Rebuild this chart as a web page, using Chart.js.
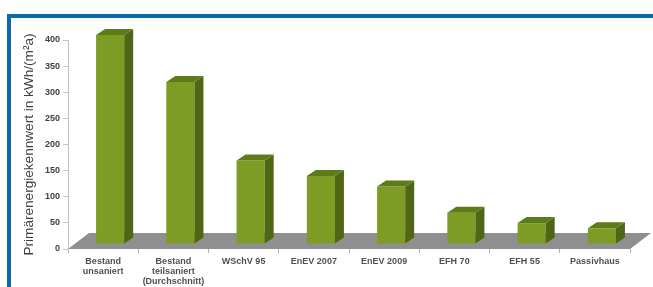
<!DOCTYPE html>
<html>
<head>
<meta charset="utf-8">
<script src="https://cdn.jsdelivr.net/npm/chart.js@4"></script>
<style>
  html, body { margin: 0; padding: 0; background: #fff; }
  #wrap { position: relative; width: 653px; height: 287px; overflow: hidden; }
  #frame { position: absolute; left: 7px; top: 14px; width: 660px; height: 300px;
           border-top: 4px solid #0b6aae; border-left: 4px solid #0b6aae; box-sizing: border-box; }
  #chart { position: absolute; left: 0; top: 0; }
</style>
</head>
<body>
<div id="wrap">
  <div id="frame"></div>
  <canvas id="chart" width="653" height="287"></canvas>
</div>
<script>
const categories = [
  ['Bestand', 'unsaniert'],
  ['Bestand', 'teilsaniert', '(Durchschnitt)'],
  'WSchV 95',
  'EnEV 2007',
  'EnEV 2009',
  'EFH 70',
  'EFH 55',
  'Passivhaus'
];
const values = [400, 310, 160, 130, 110, 60, 40, 30];
const yTicks = [0, 50, 100, 150, 200, 250, 300, 350, 400];

// 3d look: front face shifted into the floor, side + top faces added
const depth = { dx: 9, dy: -6 };
const shift = { dx: 7, dy: -5 };
const floorDepth = { dx: 21, dy: -16 };

const bars3d = {
  id: 'bars3d',
  beforeDatasetsDraw(chart) {
    const ctx = chart.ctx;
    const a = chart.chartArea;
    const y0 = chart.scales.y.getPixelForValue(0);
    // gray floor
    ctx.save();
    ctx.fillStyle = '#8f8f8f';
    ctx.beginPath();
    ctx.moveTo(a.left, y0);
    ctx.lineTo(a.right, y0);
    ctx.lineTo(a.right + floorDepth.dx, y0 + floorDepth.dy);
    ctx.lineTo(a.left + floorDepth.dx, y0 + floorDepth.dy);
    ctx.closePath();
    ctx.fill();
    ctx.restore();
    ctx.save();
    ctx.translate(shift.dx, shift.dy);
  },
  afterDatasetsDraw(chart) {
    const ctx = chart.ctx;
    chart.getDatasetMeta(0).data.forEach(bar => {
      const p = bar.getProps(['x', 'y', 'base', 'width']);
      const l = p.x - p.width / 2, r = p.x + p.width / 2;
      // side face
      ctx.fillStyle = '#4f6714';
      ctx.beginPath();
      ctx.moveTo(r, p.y);
      ctx.lineTo(r + depth.dx, p.y + depth.dy);
      ctx.lineTo(r + depth.dx, p.base + depth.dy);
      ctx.lineTo(r, p.base);
      ctx.closePath();
      ctx.fill();
      // top face
      ctx.fillStyle = '#5d7b18';
      ctx.beginPath();
      ctx.moveTo(l, p.y);
      ctx.lineTo(r, p.y);
      ctx.lineTo(r + depth.dx, p.y + depth.dy);
      ctx.lineTo(l + depth.dx, p.y + depth.dy);
      ctx.closePath();
      ctx.fill();
    });
    ctx.restore();
  }
};

new Chart(document.getElementById('chart'), {
  type: 'bar',
  data: {
    labels: categories,
    datasets: [{
      data: values,
      backgroundColor: '#7e9c24',
      barPercentage: 0.4,
      categoryPercentage: 1
    }]
  },
  options: {
    responsive: false,
    animation: false,
    events: [],
    layout: { padding: { left: 21, right: 23, top: 40, bottom: 0 } },
    plugins: { legend: { display: false }, tooltip: { enabled: false } },
    scales: {
      y: {
        min: 0,
        max: 400,
        afterFit(axis) { axis.width = 47; },
        afterBuildTicks(axis) { axis.ticks = yTicks.map(v => ({ value: v })); },
        border: { display: true, color: '#c4c4c4', width: 1 },
        grid: { drawOnChartArea: false, tickLength: 5, color: '#c4c4c4' },
        ticks: {
          padding: 3,
          color: '#404040',
          font: { family: 'Liberation Sans', size: 9, weight: 'bold' }
        },
        title: {
          display: true,
          text: 'Primärenergiekennwert in kWh/(m²a)',
          color: '#404040',
          padding: 0,
          font: { family: 'Liberation Sans', size: 13.6 }
        }
      },
      x: {
        afterFit(axis) { axis.height = 38; },
        border: { display: false },
        grid: { offset: true, drawOnChartArea: false, tickLength: 4, color: '#b0b0b0' },
        ticks: {
          padding: 3,
          maxRotation: 0,
          autoSkip: false,
          color: '#505050',
          font: { family: 'Liberation Sans', size: 9, weight: 'bold', lineHeight: 1.15 }
        }
      }
    }
  },
  plugins: [bars3d]
});
</script>
</body>
</html>
